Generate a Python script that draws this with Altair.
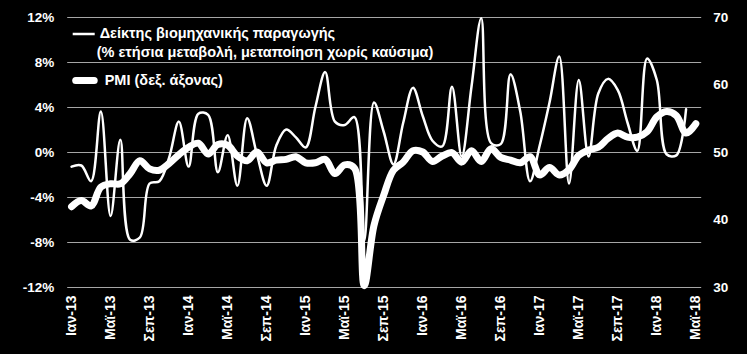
import altair as alt
import pandas as pd

# ---------------- data ----------------
months_gr = ["Ιαν", "Φεβ", "Μαρ", "Απρ", "Μαϊ", "Ιουν", "Ιουλ", "Αυγ", "Σεπ", "Οκτ", "Νοε", "Δεκ"]
years = ["13", "14", "15", "16", "17", "18"]
month_labels = [f"{m}-{y}" for y in years for m in months_gr][:65]   # Ιαν-13 ... Μαϊ-18
tick_labels = month_labels[::4]

# Industrial production, manufacturing excl. fuels, % y/y (left axis), Ιαν-13 .. Απρ-18
ip = [-1.3, -1.2, -2.6, 3.6, -5.7, 1.1, -7.8, -7.6, -2.8, -2.6, -0.5, 2.7,
      -1.3, 3.4, 3.3, -1.8, 1.5, -3.0, 3.0, -0.2, -3.0, 0.6, 2.0, 1.3,
      0.4, 4.0, 7.1, 2.7, 2.4, 3.1, -7.9, 4.4, 1.8, -1.1, 2.6, 5.7,
      3.2, 1.0, 0.5, 5.8, -0.4, 5.8, 11.9, 0.8, 0.7, 6.9, 3.6, -2.6,
      0.6, 4.4, 8.5, -2.8, 6.4, -0.4, 5.2, 6.5, 5.5, 2.6, 0.1, 8.3,
      6.4, -0.2, -0.3, 3.8]

# PMI (right axis), Ιαν-13 .. Μαϊ-18
pmi = [41.9, 42.8, 42.0, 44.8, 45.3, 45.3, 46.8, 48.7, 47.5, 47.3, 48.3, 49.6,
       50.7, 51.3, 49.7, 51.1, 51.0, 49.4, 48.7, 50.0, 48.4, 48.8, 48.9, 49.3,
       48.4, 48.4, 48.9, 46.8, 48.1, 47.6, 30.2, 39.1, 43.6, 47.3, 48.5, 50.2,
       50.0, 48.6, 49.4, 49.9, 48.5, 50.2, 48.6, 50.5, 49.2, 48.8, 48.4, 49.3,
       46.6, 47.7, 46.6, 47.4, 49.5, 50.3, 50.7, 52.0, 52.8, 52.2, 52.2, 53.0,
       55.2, 56.0, 55.4, 52.8, 54.2]

left_ticks = [-12, -8, -4, 0, 4, 8, 12]
right_ticks = [30, 40, 50, 60, 70]

legend_ip_1 = "Δείκτης βιομηχανικής παραγωγής"
legend_ip_2 = "(% ετήσια μεταβολή, μεταποίηση χωρίς καύσιμα)"
legend_pmi = "PMI (δεξ. άξονας)"

df = pd.DataFrame({"month": month_labels, "ip": ip + [None], "pmi": pmi})

FONT = "Liberation Sans"
W, H = 634, 270

x_enc = alt.X(
    "month:O", sort=None, scale=alt.Scale(type="point", padding=0.5),
    axis=alt.Axis(values=tick_labels, labelAngle=-90, labelPadding=8, title=None,
                  domain=False, ticks=False, labelFontSize=14, labelFontWeight="bold",
                  labelColor="white", labelFont=FONT),
)

base = alt.Chart(df)

ip_line = base.mark_line(color="white", strokeWidth=2.5, interpolate="catmull-rom",
                         strokeCap="round", strokeJoin="round").encode(
    x=x_enc,
    y=alt.Y("ip:Q", scale=alt.Scale(domain=[-12, 12], nice=False, zero=False),
            axis=alt.Axis(values=left_ticks, labelExpr="datum.value + '%'", title=None,
                          orient="left", grid=True, gridColor="#a6a6a6", gridWidth=1,
                          domain=False, ticks=False, labelPadding=13,
                          labelFontSize=13.5, labelFontWeight="bold", labelColor="white",
                          labelFont=FONT, labelOverlap=False, labelFlush=False)),
)

pmi_line = base.mark_line(color="white", strokeWidth=7, interpolate="catmull-rom",
                          strokeCap="round", strokeJoin="round").encode(
    x=x_enc,
    y=alt.Y("pmi:Q", scale=alt.Scale(domain=[30, 70], nice=False, zero=False),
            axis=alt.Axis(values=right_ticks, title=None, orient="right", grid=False,
                          domain=False, ticks=False, labelPadding=12,
                          labelFontSize=13.5, labelFontWeight="bold", labelColor="white",
                          labelFont=FONT, labelOverlap=False, labelFlush=False)),
)

one = pd.DataFrame({"a": [0]})
leg_rule_ip = alt.Chart(one).mark_rule(color="white", strokeWidth=2.5).encode(
    x=alt.value(6), x2=alt.value(28), y=alt.value(17))
leg_rule_pmi = alt.Chart(one).mark_rule(color="white", strokeWidth=7, strokeCap="round").encode(
    x=alt.value(9), x2=alt.value(27.5), y=alt.value(63.5))
txt = dict(color="white", font=FONT, fontSize=14.5, fontWeight="bold", align="left", baseline="middle")
leg_t1 = alt.Chart(one).mark_text(text=legend_ip_1, **txt).encode(x=alt.value(33), y=alt.value(17))
leg_t2 = alt.Chart(one).mark_text(text=legend_ip_2, **txt).encode(x=alt.value(30), y=alt.value(35.5))
leg_t3 = alt.Chart(one).mark_text(text=legend_pmi, **txt).encode(x=alt.value(38), y=alt.value(63.5))

chart = alt.layer(ip_line, pmi_line, leg_rule_ip, leg_rule_pmi, leg_t1, leg_t2, leg_t3).resolve_scale(
    y="independent"
).properties(
    width=W, height=H,
    autosize=alt.AutoSizeParams(type="none"),
    padding={"left": 66.7, "top": 17, "right": 46.3, "bottom": 67},
    background="black",
).configure_view(stroke=None)

chart.save("out.html", embed_options={"renderer": "svg", "actions": False})
